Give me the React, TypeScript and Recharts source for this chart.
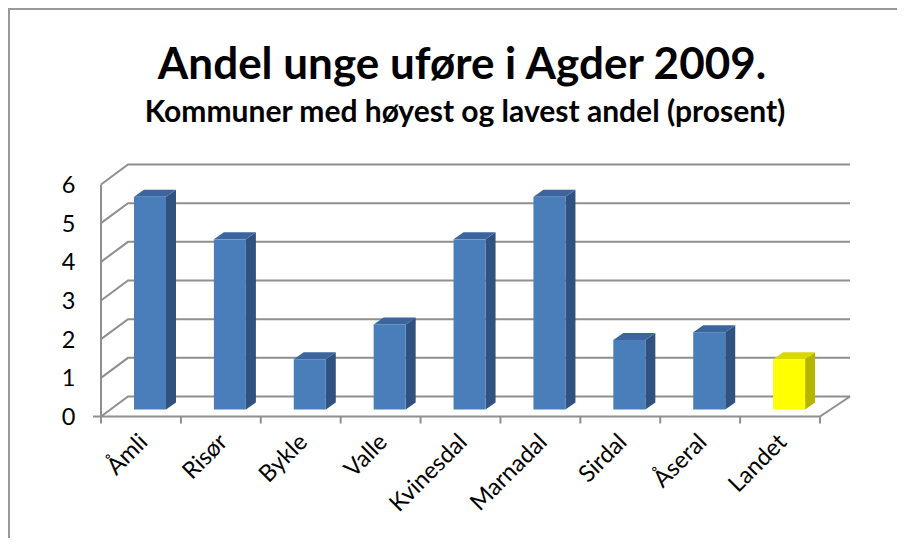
import React from 'react';
import { BarChart, Bar, XAxis, YAxis, CartesianGrid, Cell } from 'recharts';

const categories = ['Åmli', 'Risør', 'Bykle', 'Valle', 'Kvinesdal', 'Marnadal', 'Sirdal', 'Åseral', 'Landet'];
const values = [5.5, 4.4, 1.3, 2.2, 4.4, 5.5, 1.8, 2.0, 1.3];
const isNational = [false, false, false, false, false, false, false, false, true];
const yTicks = [0, 1, 2, 3, 4, 5, 6];
const title = 'Andel unge uføre i Agder 2009.';
const subtitle = 'Kommuner med høyest og lavest andel (prosent)';

const data = categories.map((name, i) => ({ name, value: values[i], national: isNational[i] }));

const W = 889;
const H = 530;
const PLOT_LEFT = 93;
const PLOT_RIGHT = 812;
const PLOT_TOP = 176.5;
const PLOT_BOTTOM = 408.5;
const Y_AXIS_W = 40;
const X_AXIS_H = 60;
const DEPTH_X = 27;
const DEPTH_Y = 20;
const BACK_EXTRA_X = 30;
const FRONT_DX = 9;
const FRONT_DY = -7;
const SIDE_DX = 10;
const SIDE_DY = -7;
const GRID_COLOR = '#8f8f8f';
const FONT = 'Lato, "Open Sans", sans-serif';

const BLUE = { front: '#4a7ebb', side: '#2f5280', top: '#3b659c' };
const YELLOW = { front: '#ffff00', side: '#b5b500', top: '#d9d900' };

const Bar3D = (props: any) => {
  const { x, y, width, height, payload } = props;
  if (width == null || height == null) return null;
  const pal = payload && payload.national ? YELLOW : BLUE;
  const fx = x + FRONT_DX;
  const fy = y + FRONT_DY;
  const w = width;
  const h = height;
  const top = `${fx},${fy} ${fx + w},${fy} ${fx + w + SIDE_DX},${fy + SIDE_DY} ${fx + SIDE_DX},${fy + SIDE_DY}`;
  const side = `${fx + w},${fy} ${fx + w + SIDE_DX},${fy + SIDE_DY} ${fx + w + SIDE_DX},${fy + h + SIDE_DY} ${fx + w},${fy + h}`;
  return (
    <g>
      <polygon points={side} fill={pal.side} />
      <polygon points={top} fill={pal.top} />
      <rect x={fx} y={fy} width={w} height={h} fill={pal.front} />
    </g>
  );
};

const gridLine = (p: any) => {
  const { x1, y1, x2 } = p;
  const isZero = Math.abs(y1 - PLOT_BOTTOM) < 1;
  const pts = `${x1},${y1} ${x1 + DEPTH_X},${y1 - DEPTH_Y} ${x2 + BACK_EXTRA_X},${y1 - DEPTH_Y}`;
  return (
    <g key={`grid-${p.index}-${y1}`}>
      <polyline points={pts} fill="none" stroke={GRID_COLOR} strokeWidth={2} />
      {isZero && (
        <>
          <line x1={x2} y1={y1} x2={x2 + BACK_EXTRA_X} y2={y1 - DEPTH_Y} stroke={GRID_COLOR} strokeWidth={2} />
          <line x1={x1 - 8} y1={y1} x2={x1} y2={y1} stroke={GRID_COLOR} strokeWidth={2} />
        </>
      )}
    </g>
  );
};

const XTick = (p: any) => {
  const { x, y, payload, index } = p;
  const bw = (PLOT_RIGHT - PLOT_LEFT) / categories.length;
  const ax = x + 8;
  const ay = y + 27;
  return (
    <g>
      <line x1={x - bw / 2} y1={y} x2={x - bw / 2} y2={y + 7} stroke={GRID_COLOR} strokeWidth={2} />
      {index === categories.length - 1 && (
        <line x1={x + bw / 2} y1={y} x2={x + bw / 2} y2={y + 7} stroke={GRID_COLOR} strokeWidth={2} />
      )}
      <text
        x={ax}
        y={ay}
        transform={`rotate(-45 ${ax} ${ay})`}
        textAnchor="end"
        fontSize={23.5}
        fontFamily={FONT}
        fill="#000"
      >
        {payload.value}
      </text>
    </g>
  );
};

const YTick = (p: any) => {
  const { y, payload } = p;
  return (
    <text x={PLOT_LEFT - 25.5} y={y} dy="0.36em" textAnchor="end" fontSize={23.5} fontFamily={FONT} fill="#000">
      {payload.value}
    </text>
  );
};

export default function App() {
  return (
    <div style={{ position: 'relative', width: W, height: H, overflow: 'hidden', background: '#fff' }}>
      <BarChart
        width={W}
        height={H}
        data={data}
        margin={{
          top: PLOT_TOP,
          right: W - PLOT_RIGHT,
          left: PLOT_LEFT - Y_AXIS_W,
          bottom: H - PLOT_BOTTOM - X_AXIS_H,
        }}
        barSize={32}
      >
        <CartesianGrid vertical={false} horizontal={gridLine} />
        <XAxis
          dataKey="name"
          interval={0}
          height={X_AXIS_H}
          tickSize={0}
          tickMargin={0}
          tickLine={false}
          axisLine={{ stroke: GRID_COLOR, strokeWidth: 2 }}
          tick={<XTick />}
        />
        <YAxis
          type="number"
          domain={[0, 6]}
          ticks={yTicks}
          width={Y_AXIS_W}
          tickSize={0}
          tickMargin={0}
          tickLine={false}
          axisLine={{ stroke: GRID_COLOR, strokeWidth: 2 }}
          tick={<YTick />}
          interval={0}
        />
        <Bar dataKey="value" isAnimationActive={false} shape={<Bar3D />}>
          {data.map((d, i) => (
            <Cell key={`c-${i}`} fill={d.national ? YELLOW.front : BLUE.front} />
          ))}
        </Bar>
      </BarChart>
      <svg
        width={W}
        height={H}
        style={{ position: 'absolute', left: 0, top: 0, pointerEvents: 'none' }}
      >
        <line x1={1} y1={0} x2={1} y2={H} stroke="#999" strokeWidth={2} />
        <line x1={0} y1={1} x2={W} y2={1} stroke="#999" strokeWidth={2} />
        <text x={454} y={71} textAnchor="middle" fontSize={44} fontWeight="bold" fontFamily={FONT} fill="#000">
          {title}
        </text>
        <text x={457} y={114} textAnchor="middle" fontSize={30} fontWeight="bold" fontFamily={FONT} fill="#000">
          {subtitle}
        </text>
      </svg>
    </div>
  );
}
